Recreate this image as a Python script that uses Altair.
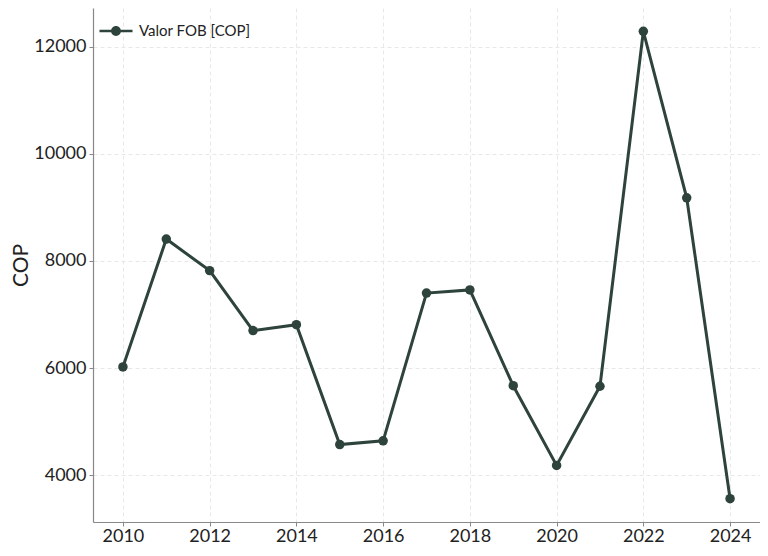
import altair as alt
import pandas as pd

years = [2010, 2011, 2012, 2013, 2014, 2015, 2016, 2017, 2018, 2019, 2020, 2021, 2022, 2023, 2024]
values = [6020, 8410, 7820, 6700, 6810, 4570, 4640, 7400, 7460, 5670, 4180, 5660, 12290, 9180, 3560]
series = "Valor FOB [COP]"
x_ticks = [2010, 2012, 2014, 2016, 2018, 2020, 2022, 2024]
y_ticks = [4000, 6000, 8000, 10000, 12000]

df = pd.DataFrame({"year": years, "value": values, "serie": [series] * len(years)})

color = "#2d433b"
font = "Lato"

legend_symbol = (
    "M-1.1,-0.09H1.1V0.09H-1.1Z "
    "M0.33,0A0.33,0.33 0 1 1 -0.33,0A0.33,0.33 0 1 1 0.33,0Z"
)

base = alt.Chart(df).encode(
    x=alt.X("year:Q",
            scale=alt.Scale(domain=[2009.31, 2024.69], nice=False, zero=False),
            axis=alt.Axis(values=x_ticks, format="d", title=None)),
    y=alt.Y("value:Q",
            scale=alt.Scale(domain=[3124, 12726], nice=False, zero=False),
            axis=alt.Axis(values=y_ticks, format="d", title="COP")),
    color=alt.Color("serie:N",
                    scale=alt.Scale(range=[color]),
                    legend=alt.Legend(title=None, orient="top-left", offset=8,
                                      symbolType=legend_symbol, symbolSize=900,
                                      symbolStrokeWidth=0, symbolFillColor=color,
                                      labelFontSize=15, labelFont=font, labelOffset=8,
                                      labelColor="#222222")),
)

line = base.mark_line(strokeWidth=3, color=color)
pts = base.mark_circle(size=90, opacity=1, color=color)

chart = (line + pts).properties(
    width=667, height=514,
    autosize=alt.AutoSizeParams(type="none"),
    padding={"left": 85, "top": 0, "right": 0, "bottom": 26},
).configure_view(stroke=None).configure_axis(
    labelFont=font, titleFont=font, labelFontSize=18, titleFontSize=21,
    labelColor="#222222", titleColor="#222222", titleFontWeight="normal",
    domainColor="#888888", domainWidth=1.2, tickColor="#888888", tickSize=4,
    gridColor="#e2e2e2", gridDash=[4, 3], gridWidth=0.8, labelPadding=1,
).configure_axisY(titlePadding=2, labelPadding=3)

chart.save("out.html", embed_options={"renderer": "svg", "actions": False})
